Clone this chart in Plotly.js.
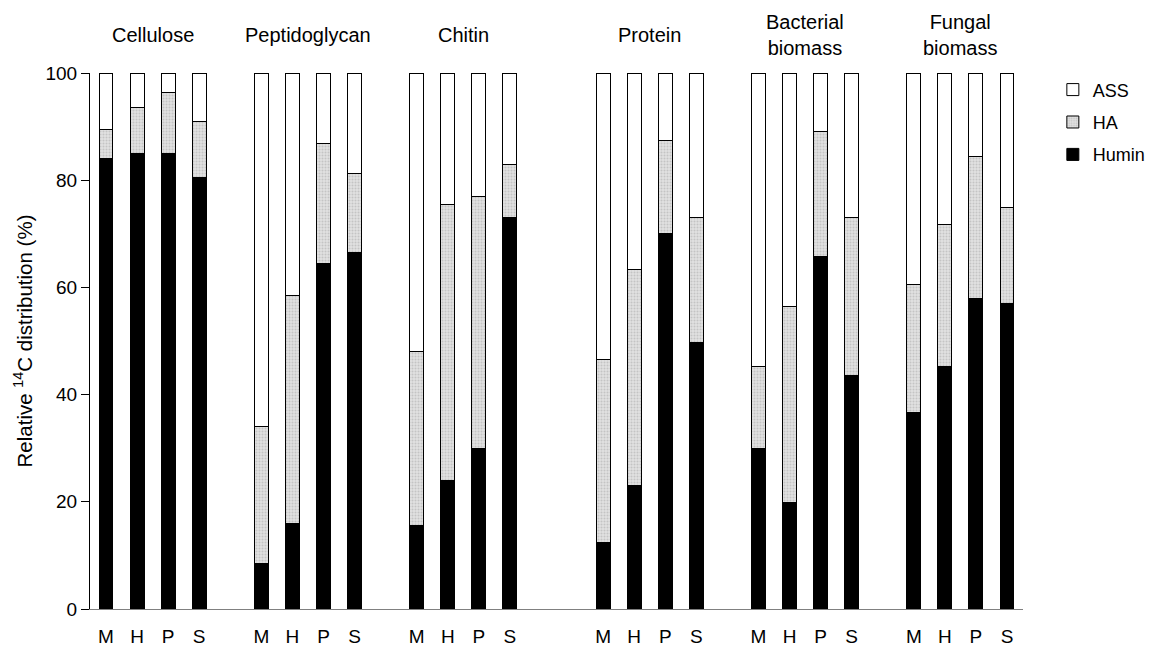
<!DOCTYPE html>
<html><head><meta charset="utf-8">
<script src="https://cdn.plot.ly/plotly-3.0.1.min.js"></script>
<style>html,body{margin:0;padding:0;background:#fff}#chart{width:1151px;height:646px}</style>
</head><body><div id="chart"></div>
<script>
const groups = ["Cellulose","Peptidoglycan","Chitin","Protein","Bacterial<br>biomass","Fungal<br>biomass"];
const treatments = ["M","H","P","S"];
// Humin (%) per group, order M,H,P,S
const humin = [
  [84, 85, 85, 80.5],
  [8.5, 16, 64.5, 66.5],
  [15.5, 24, 30, 73],
  [12.5, 23, 70, 49.7],
  [30, 19.8, 65.7, 43.5],
  [36.7, 45.2, 58, 57]
];
// HA (%)
const ha = [
  [5.5, 8.5, 11.3, 10.5],
  [25.5, 42.5, 22.3, 14.8],
  [32.5, 51.5, 47, 10],
  [34, 40.3, 17.5, 23.3],
  [15.2, 36.7, 23.3, 29.5],
  [23.8, 26.6, 26.5, 18]
];
// ASS (%)
const ass = [
  [10.5, 6.5, 3.7, 9],
  [66, 41.5, 13.2, 18.7],
  [52, 24.5, 23, 17],
  [53.5, 36.7, 12.5, 27],
  [54.8, 43.5, 11, 27],
  [39.5, 28.2, 15.5, 25]
];

// layout: slot offsets for each group start
const groupStart = [0, 5, 10, 16, 21, 26];

const xs = [], labels = [];
groups.forEach((g, gi) => treatments.forEach((t, ti) => { xs.push(groupStart[gi] + ti); labels.push(t); }));
const flat = a => a.flat();

const FONT = 'Liberation Sans, Arial, sans-serif';
const lineStyle = {color: '#000', width: 1};
const BW = 0.45;
const traces = [
  {type:'bar', name:'Humin', legendgroup:'c', legendrank: 3, x: xs, y: flat(humin), width: BW,
   marker:{color:'#000', line: lineStyle}},
  {type:'bar', name:'HA', legendgroup:'b', legendrank: 2, x: xs, y: flat(ha), width: BW,
   marker:{color:'#dcdcdc', line: lineStyle,
     pattern:{shape:'.', bgcolor:'#e2e2e2', fgcolor:'#c4c4c4', size:3, solidity:0.35}}},
  {type:'bar', name:'ASS', legendgroup:'a', legendrank: 1, x: xs, y: flat(ass), width: BW,
   marker:{color:'#fff', line: lineStyle}}
];

const annotations = groups.map((g, gi) => ({
  text: g, x: groupStart[gi] + 1.5, xref: 'x', y: 1.0, yref: 'paper',
  yshift: g.includes('<br>') ? 12 : 25,
  yanchor: 'bottom', xanchor: 'center', showarrow: false,
  font: {family: FONT, size: 20, color: '#000'}
}));

const layout = {
  width: 1151, height: 646,
  margin: {l: 90, r: 128, t: 73, b: 37, autoexpand: false},
  paper_bgcolor: '#fff', plot_bgcolor: '#fff',
  barmode: 'stack',
  font: {family: FONT, size: 19, color: '#000'},
  xaxis: {range: [-0.515, 29.515], tickvals: xs, ticktext: labels, showgrid: false, zeroline: false,
    showline: true, linecolor: '#808080', linewidth: 1, ticks: '', ticklabelstandoff: 10,
    tickfont: {size: 19}},
  yaxis: {range: [0, 100], tickvals: [0,20,40,60,80,100], showgrid: false, zeroline: false,
    showline: true, linecolor: '#000', linewidth: 1, ticks: 'outside', ticklen: 8, tickcolor: '#000',
    tickfont: {size: 19},
    title: {text: 'Relative <sup>14</sup>C distribution (%)', font: {size: 20.5}, standoff: 7}},
  legend: {x: 1.032, y: 1.003, xanchor: 'left', yanchor: 'top', traceorder: 'grouped',
    font: {size: 18}, itemwidth: 30, tracegroupgap: 6, bgcolor: 'rgba(0,0,0,0)'},
  annotations: annotations,
  showlegend: true
};

Plotly.newPlot('chart', traces, layout, {displayModeBar: false, staticPlot: true});
</script>
</body></html>
